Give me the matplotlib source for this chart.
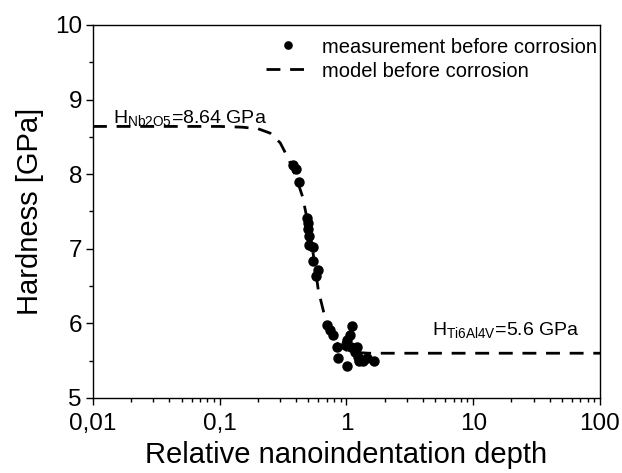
import matplotlib
matplotlib.use('Agg')
import matplotlib.pyplot as plt
from matplotlib.ticker import FixedLocator, FixedFormatter, LogLocator, NullFormatter

plt.rcParams['font.family'] = ['Liberation Sans', 'DejaVu Sans']
plt.rcParams['mathtext.fontset'] = 'custom'
plt.rcParams['mathtext.rm'] = 'Liberation Sans'

# measured hardness before corrosion
meas_depth = [0.380, 0.400, 0.425, 0.491, 0.495, 0.495, 0.509, 0.509, 0.541, 0.547,
              0.593, 0.578, 0.698, 0.741, 0.778, 1.10, 1.066, 1.014, 0.991, 0.837,
              1.079, 1.217, 1.167, 0.862, 1.24, 1.262, 1.443, 1.357, 1.648, 1.014]
meas_hard = [8.12, 8.07, 7.89, 7.41, 7.35, 7.26, 7.17, 7.05, 7.02, 6.83,
             6.71, 6.64, 5.98, 5.91, 5.85, 5.96, 5.84, 5.78, 5.73, 5.69,
             5.69, 5.69, 5.62, 5.53, 5.55, 5.49, 5.53, 5.49, 5.49, 5.43]

# model curve before corrosion
model_depth = [0.01, 0.05, 0.1, 0.15, 0.2, 0.25, 0.3, 0.35, 0.4, 0.45, 0.5, 0.55,
               0.6, 0.65, 0.7, 0.8, 0.9, 1.0, 1.2, 1.5, 2, 10, 100]
model_hard = [8.64, 8.64, 8.64, 8.63, 8.61, 8.55, 8.42, 8.2, 7.96, 7.7, 7.32, 6.9,
              6.44, 6.2, 5.98, 5.78, 5.68, 5.64, 5.61, 5.6, 5.6, 5.6, 5.6]

xticks = [0.01, 0.1, 1, 10, 100]
xtick_labels = ['0,01', '0,1', '1', '10', '100']

fig = plt.figure(figsize=(6.22, 4.73), dpi=100)
ax = fig.add_axes([0.1495, 0.1586, 0.8151, 0.7886])

ax.plot(meas_depth, meas_hard, 'o', color='black', markersize=6.5,
        label='measurement before corrosion')
ax.plot(model_depth, model_hard, color='black', linewidth=2, dashes=(5, 3.5),
        label='model before corrosion')

ax.set_xscale('log')
ax.set_xlim(0.01, 100)
ax.set_ylim(5, 10)
ax.xaxis.set_major_locator(FixedLocator(xticks))
ax.xaxis.set_major_formatter(FixedFormatter(xtick_labels))
ax.xaxis.set_minor_locator(LogLocator(base=10, subs=range(2, 10), numticks=20))
ax.xaxis.set_minor_formatter(NullFormatter())
ax.set_yticks([5, 6, 7, 8, 9, 10])
ax.set_yticks([5.5, 6.5, 7.5, 8.5, 9.5], minor=True)

ax.tick_params(which='major', direction='out', length=5, width=1, labelsize=17.5)
ax.tick_params(axis='x', which='major', pad=6)
ax.tick_params(axis='y', which='major', pad=3)
ax.tick_params(which='minor', direction='out', length=3, width=1)
for s in ax.spines.values():
    s.set_linewidth(1)

ax.set_xlabel('Relative nanoindentation depth', fontsize=21, labelpad=4)
ax.set_ylabel('Hardness [GPa]', fontsize=21, labelpad=8)

ax.text(0.0144, 8.67, r'H$_{\mathregular{Nb2O5}}$=8.64 GPa', fontsize=14, va='baseline')
ax.text(4.73, 5.83, r'H$_{\mathregular{Ti6Al4V}}$=5.6 GPa', fontsize=14, va='baseline')

ax.legend(loc='upper right', bbox_to_anchor=(1.03, 1.015), frameon=False, fontsize=14.5,
          handlelength=2.2, handletextpad=0.6, labelspacing=0.25, markerscale=0.8)

fig.savefig('out.png', dpi=100, facecolor='white')
